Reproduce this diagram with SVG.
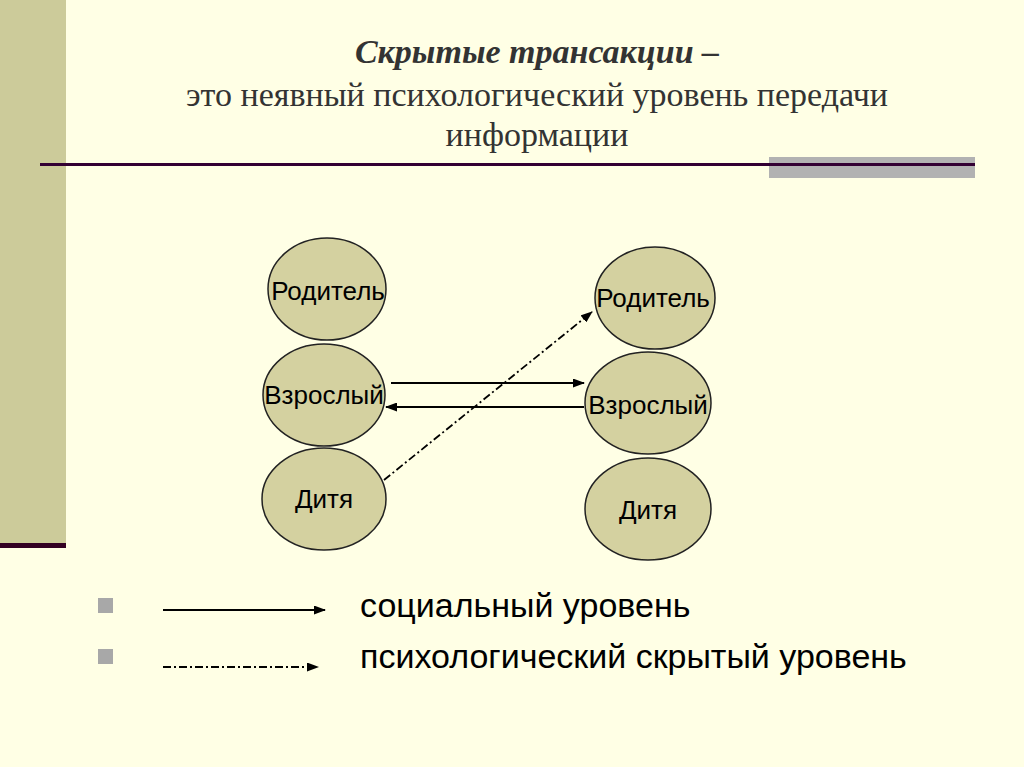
<svg xmlns="http://www.w3.org/2000/svg" width="1024" height="767" viewBox="0 0 1024 767">
<defs>
<style>
.node ellipse{fill:#D4D1A0;stroke:#222;stroke-width:1.5}
.node text{font-family:"Liberation Sans",Arial,sans-serif;font-size:26px;fill:#000;text-anchor:middle}
.title{font-family:"Liberation Serif","Times New Roman",serif;fill:#333;text-anchor:middle}
.leg{font-family:"Liberation Sans",Arial,sans-serif;font-size:34px;fill:#000}
.solid{stroke:#000;stroke-width:1.8;fill:none}
.dash{stroke:#000;stroke-width:1.8;fill:none;stroke-dasharray:8 3 2 3}
</style>
<marker id="ah" markerWidth="12" markerHeight="9" refX="11" refY="4.5" orient="auto" markerUnits="userSpaceOnUse">
<path d="M0,0 L12,4.5 L0,9 Z" fill="#000"/>
</marker>
</defs>
<rect width="1024" height="767" fill="#FFFFE5"/>
<rect x="0" y="0" width="66" height="545" fill="#CCCB9A"/>
<rect x="0" y="543" width="66" height="5" fill="#330022"/>
<rect x="769" y="157" width="206" height="21" fill="#B2B2B2"/>
<rect x="40" y="163" width="935" height="3" fill="#330033"/>
<text class="title" x="537" y="63" font-size="34" font-weight="bold" font-style="italic">Скрытые трансакции –</text>
<text class="title" x="537" y="106" font-size="34">это неявный психологический уровень передачи</text>
<text class="title" x="537" y="146" font-size="34">информации</text>
<g id="l-parent" class="node"><ellipse cx="327" cy="289" rx="59" ry="51"/><text x="328" y="300">Родитель</text></g>
<g id="l-adult" class="node"><ellipse cx="324" cy="395" rx="61" ry="51"/><text x="324" y="404">Взрослый</text></g>
<g id="l-child" class="node"><ellipse cx="324" cy="499" rx="62" ry="51"/><text x="324" y="508">Дитя</text></g>
<g id="r-parent" class="node"><ellipse cx="655" cy="298" rx="60" ry="51"/><text x="653" y="307">Родитель</text></g>
<g id="r-adult" class="node"><ellipse cx="648" cy="403" rx="63" ry="51"/><text x="648" y="414">Взрослый</text></g>
<g id="r-child" class="node"><ellipse cx="648" cy="509" rx="63" ry="51"/><text x="648" y="519">Дитя</text></g>
<g id="connectors">
<line class="solid" x1="391" y1="383" x2="584" y2="383" marker-end="url(#ah)"/>
<line class="solid" x1="584" y1="407" x2="386" y2="407" marker-end="url(#ah)"/>
<line class="dash" x1="384" y1="480" x2="592" y2="312" marker-end="url(#ah)"/>
</g>
<g id="legend">
<rect x="98" y="598" width="15" height="15" fill="#A8A8A8"/>
<rect x="98" y="649" width="15" height="15" fill="#A8A8A8"/>
<line class="solid" x1="163" y1="610" x2="325" y2="610" marker-end="url(#ah)"/>
<line class="dash" x1="163" y1="667" x2="318" y2="667" marker-end="url(#ah)"/>
<text class="leg" x="360" y="617">социальный уровень</text>
<text class="leg" x="360" y="668">психологический скрытый уровень</text>
</g>
</svg>
